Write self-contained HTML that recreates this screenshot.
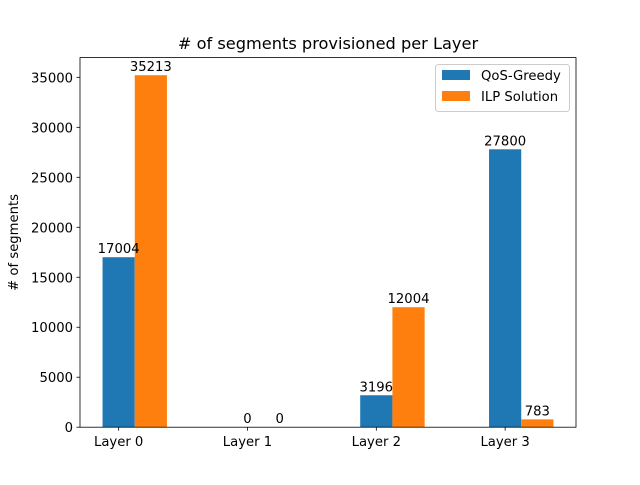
<!DOCTYPE html>
<html><head><meta charset="utf-8"><style>
body{margin:0;background:#fff}
svg text{font-family:"DejaVu Sans","Liberation Sans",sans-serif;fill:#000}
</style></head><body>
<svg id="chart" width="640" height="480" xmlns="http://www.w3.org/2000/svg">
<rect width="640" height="480" fill="#fff"/>
<text x="328" y="49" font-size="16.2" text-anchor="middle"># of segments provisioned per Layer</text>
<text transform="translate(18,242.4) rotate(-90)" font-size="13.2" text-anchor="middle"># of segments</text>
<g id="marks"></g>
<g id="labels"></g>
<g id="axes"></g>
<g>
<rect x="435.5" y="64.5" width="134" height="47" fill="#fff" fill-opacity="0.8" stroke="#ccc" rx="3"/>
<rect x="442" y="70" width="28" height="10" fill="#1f77b4"/>
<text x="481" y="80" font-size="13.2">QoS-Greedy</text>
<rect x="442" y="91" width="28" height="10" fill="#ff7f0e"/>
<text x="481" y="101" font-size="13.2">ILP Solution</text>
</g>
</svg>
<script>
const categories=["Layer 0","Layer 1","Layer 2","Layer 3"];
const qosGreedy=[17004,0,3196,27800];
const ilpSolution=[35213,0,12004,783];
const yTicks=[0,5000,10000,15000,20000,25000,30000,35000];
const NS="http://www.w3.org/2000/svg";
const L=80,R=576,T=57.6,B=427.2,W=0.25;
const n=categories.length;
const xmin=-W/2,xmax=(n-1)+W*1.5,xm=(xmax-xmin)*0.05;
const x0=xmin-xm,x1=xmax+xm;
const ymax=Math.max(...qosGreedy,...ilpSolution)*1.05;
const sx=v=>L+(v-x0)/(x1-x0)*(R-L);
const sy=v=>B-v/ymax*(B-T);
const marks=document.getElementById('marks'),labels=document.getElementById('labels'),axes=document.getElementById('axes');
function mk(tag,attrs,parent){const e=document.createElementNS(NS,tag);for(const k in attrs)e.setAttribute(k,attrs[k]);parent.appendChild(e);return e;}
[[qosGreedy,"#1f77b4",0,"qos-greedy"],[ilpSolution,"#ff7f0e",W,"ilp"]].forEach(([vals,col,off,nm])=>{
 vals.forEach((v,i)=>{
  const xa=sx(i+off-W/2),xb=sx(i+off+W/2);
  const r=mk('rect',{x:xa,y:sy(v),width:xb-xa,height:B-sy(v),fill:col},marks);
  
  
  const t=mk('text',{x:(xa+xb)/2,y:sy(v)-4,'font-size':13.2,'text-anchor':'middle'},labels);
  t.textContent=v;
  
  
 });
});
const fr=mk('rect',{x:L,y:T,width:R-L,height:B-T,fill:'none',stroke:'#000','stroke-width':0.8},axes);


yTicks.forEach(v=>{
 const y=sy(v);
 mk('line',{x1:L-3.5,x2:L,y1:y,y2:y,stroke:'#000','stroke-width':0.8},axes);
 const t=mk('text',{x:L-7,y:y+5,'font-size':13.2,'text-anchor':'end'},axes);
 t.textContent=v;
 
 
});
categories.forEach((c,i)=>{
 const x=sx(i);
 mk('line',{x1:x,x2:x,y1:B,y2:B+3.5,stroke:'#000','stroke-width':0.8},axes);
 const t=mk('text',{x:x,y:B+19,'font-size':13.2,'text-anchor':'middle'},axes);
 t.textContent=c;
 
 
});
</script>
</body></html>
